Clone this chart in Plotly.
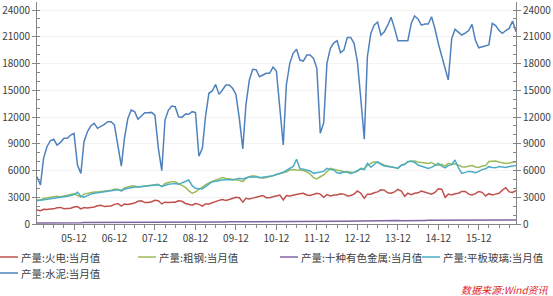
import pandas as pd
import plotly.graph_objects as go

# ---------------- data (monthly, 2005-01 .. 2016-11) ----------------
months = pd.date_range("2005-01-01", periods=143, freq="MS")

thermal_power = (  # 产量:火电:当月值
    [1570, 1500, 1650, 1620, 1680, 1700, 1820, 1860, 1720, 1740, 1760, 1900]
    + [1950, 1700, 1850, 1800, 1850, 1900, 2050, 2100, 1950, 1960, 2030, 2200]
    + [2300, 2000, 2250, 2200, 2300, 2350, 2550, 2600, 2400, 2400, 2500, 2650]
    + [2600, 2250, 2450, 2400, 2450, 2450, 2600, 2550, 2300, 2200, 2100, 2300]
    + [2200, 2000, 2250, 2250, 2400, 2550, 2650, 2750, 2650, 2750, 2900, 3000]
    + [2950, 2450, 2880, 2800, 2900, 3000, 3150, 3200, 2950, 2950, 3050, 3150]
    + [3250, 2700, 3200, 3150, 3250, 3300, 3400, 3450, 3250, 3200, 3300, 3450]
    + [3350, 3000, 3300, 3150, 3250, 3250, 3400, 3350, 3150, 3200, 3350, 3700]
    + [3450, 2880, 3350, 3350, 3500, 3600, 3840, 3800, 3500, 3450, 3600, 3890]
    + [3700, 3100, 3450, 3300, 3450, 3500, 3700, 3600, 3450, 3350, 3550, 3950]
    + [3900, 2990, 3350, 3250, 3400, 3450, 3650, 3650, 3350, 3250, 3400, 3650]
    + [3550, 3150, 3400, 3250, 3350, 3450, 3800, 4070, 3600, 3550, 3750]
)

crude_steel = (  # 产量:粗钢:当月值
    [2690, 2700, 2850, 2950, 3000, 3050, 3100, 3050, 3150, 3200, 3300, 3400]
    + [3200, 3050, 3350, 3450, 3550, 3600, 3600, 3650, 3650, 3750, 3800, 3900]
    + [3900, 3750, 4050, 4150, 4250, 4250, 4150, 4200, 4250, 4350, 4350, 4400]
    + [4450, 4200, 4550, 4650, 4750, 4750, 4550, 4400, 4100, 3750, 3450, 3600]
    + [3900, 4150, 4400, 4600, 4820, 4950, 5050, 5200, 5100, 5050, 4950, 4930]
    + [4900, 4750, 5100, 5300, 5420, 5350, 5250, 5120, 5200, 5300, 5400, 5500]
    + [5600, 5680, 5850, 6060, 6100, 6050, 6060, 6000, 5870, 5600, 5200, 5050]
    + [5300, 5500, 5870, 6240, 6150, 6060, 5950, 5870, 5870, 5850, 5790, 5900]
    + [6240, 6200, 6600, 6800, 6990, 6900, 6800, 6600, 6500, 6400, 6300, 6240]
    + [6600, 6700, 6990, 7000, 7060, 6950, 6900, 6850, 6800, 6900, 6650, 6600]
    + [6700, 6500, 6800, 6700, 6750, 6600, 6430, 6400, 6500, 6550, 6400, 6350]
    + [6500, 6550, 7000, 7050, 7060, 6950, 6850, 6800, 6850, 6950, 6990]
)

nonferrous = (  # 产量:十种有色金属:当月值
    [125, 120, 130, 130, 135, 135, 135, 135, 138, 140, 142, 145]
    + [145, 140, 155, 155, 160, 160, 162, 163, 165, 167, 170, 175]
    + [175, 168, 185, 185, 195, 195, 195, 200, 200, 205, 205, 210]
    + [200, 190, 215, 215, 220, 220, 215, 210, 205, 195, 190, 190]
    + [180, 175, 195, 200, 210, 215, 225, 230, 235, 240, 245, 255]
    + [250, 245, 260, 265, 270, 270, 260, 250, 255, 265, 275, 285]
    + [280, 275, 290, 295, 295, 300, 300, 305, 310, 315, 315, 320]
    + [310, 300, 310, 310, 315, 315, 315, 310, 320, 325, 330, 345]
    + [335, 330, 350, 350, 355, 360, 360, 360, 365, 370, 375, 385]
    + [370, 365, 385, 390, 395, 400, 395, 405, 410, 410, 420, 430]
    + [410, 400, 420, 425, 430, 435, 430, 425, 435, 440, 445, 460]
    + [430, 420, 445, 440, 445, 450, 445, 440, 450, 455, 460]
)

flat_glass = (  # 产量:平板玻璃:当月值
    [2600, 2650, 2750, 2800, 2850, 2850, 2900, 2950, 3000, 3100, 3200, 3300]
    + [3550, 3100, 3000, 3200, 3350, 3450, 3500, 3550, 3600, 3650, 3700, 3800]
    + [3850, 3700, 3900, 4000, 4100, 4150, 4150, 4200, 4250, 4300, 4350, 4350]
    + [4400, 4200, 4350, 4450, 4500, 4550, 4450, 4600, 4750, 4930, 4300, 4000]
    + [3950, 3950, 4200, 4500, 4750, 4800, 4900, 4930, 4950, 5000, 4950, 5000]
    + [5120, 5050, 5200, 5300, 5250, 5310, 5200, 5250, 5310, 5350, 5420, 5550]
    + [5670, 5800, 6000, 6240, 6450, 7250, 6200, 6130, 6000, 5950, 5680, 5750]
    + [5870, 5900, 6240, 6100, 6060, 5750, 5680, 5870, 5800, 5680, 5790, 6000]
    + [6200, 6100, 6800, 6360, 6700, 6990, 6700, 6500, 6450, 6430, 6350, 6240]
    + [6600, 6700, 6990, 7060, 6900, 6620, 6500, 6400, 6240, 6350, 6600, 6800]
    + [6500, 6300, 6550, 6650, 7180, 6300, 5680, 5800, 5900, 5870, 5750, 5900]
    + [6100, 6200, 6430, 6350, 6300, 6450, 6430, 6350, 6450, 6500, 6550]
)

cement = (  # 产量:水泥:当月值 (None = month not published)
    [5300, 4370, 7370, 8670, 9340, 9500, 8860, 9160, 9610, 9610, 9980, 10170]
    + [6620, 5680, 9230, 10350, 10990, 11290, 10730, 10910, 11180, 11470, 11470, 11100]
    + [8860, 6500, 9610, 11850, 12780, 12600, 11740, 12110, 12480, 12480, 12520, 12220]
    + [8490, 5980, 11660, 12780, 13230, 13150, 12030, 11960, 12340, 12300, 12600, 12500]
    + [7600, 8490, 12000, 14660, 14920, 15660, 14540, 15030, 15590, 15590, 15220, 14540]
    + [11800, 8430, 13350, 16150, 17350, 17310, 16520, 16710, 16900, 16900, 17600, 17160]
    + [13300, 8860, 15590, 18020, 19140, 19590, 18390, 18280, 18950, 18950, 18580, 17460]
    + [10170, 11360, 18020, 19700, 20300, 20560, 19210, 19510, 20930, 20930, 20260, 18200]
    + [14000, 9500, 18760, 21380, 22310, 22650, 21200, 21570, 22300, 23180, 21940, 20560]
    + [None, None, 20560, 22500, 23330, 23000, 22300, 22430, 22430, 23250, 21900, 20250]
    + [None, None, 16150, 20800, 21830, 21500, 21200, 21400, 21700, 22400, 20600, 19760]
    + [None, None, 20080, 22500, 22250, 21700, 21380, 21700, 21940, 22770, 21570]
)

series_names = ["产量:火电:当月值", "产量:粗钢:当月值", "产量:十种有色金属:当月值",
                "产量:平板玻璃:当月值", "产量:水泥:当月值"]
series_values = [thermal_power, crude_steel, nonferrous, flat_glass, cement]
series_colors = ["#C0504D", "#9BBB59", "#8064A2", "#4BACC6", "#4F81BD"]

tick_dates = pd.date_range("2005-12-01", "2015-12-01", freq="12MS")
tick_labels = ["05-12", "06-12", "07-12", "08-12", "09-12", "10-12",
               "11-12", "12-12", "13-12", "14-12", "15-12"]
y_ticks = [0, 3000, 6000, 9000, 12000, 15000, 18000, 21000, 24000]
y_tick_labels = ["0", "3000", "6000", "9000", "12000", "15000", "18000", "21000", "24000"]

for v in series_values:
    assert len(v) == len(months)

# ---------------- figure ----------------
W, H = 553, 296
ML, MR, MT, MB = 37, 37, 2, 72
YMAX = 24900

fig = go.Figure()
for name, vals, col in zip(series_names, series_values, series_colors):
    fig.add_trace(go.Scatter(x=months, y=vals, name=name, mode="lines",
                             line=dict(color=col, width=1.5),
                             connectgaps=True, showlegend=False))
# helper trace to carry the right-hand axis
fig.add_trace(go.Scatter(x=months, y=cement, yaxis="y2", mode="lines",
                         line=dict(width=0), opacity=0, hoverinfo="skip",
                         connectgaps=True, showlegend=False))

axis_col = "#868686"
tick_font = dict(family="Noto Sans CJK SC, Liberation Sans, sans-serif",
                 size=10, color="#404040")

fig.update_layout(
    width=W, height=H,
    margin=dict(l=ML, r=MR, t=MT, b=MB, pad=0),
    paper_bgcolor="white", plot_bgcolor="white",
    xaxis=dict(
        range=[months[0], months[-1]],
        tickmode="array", tickvals=tick_dates, ticktext=tick_labels,
        ticks="outside", ticklen=5, tickcolor=axis_col,
        showline=True, linecolor=axis_col, linewidth=1,
        showgrid=False, zeroline=False, tickfont=tick_font,
        minor=dict(ticks="outside", ticklen=3, tickcolor=axis_col,
                   tick0="2005-03-01", dtick="M3", showgrid=False),
    ),
    yaxis=dict(
        range=[0, YMAX], tickmode="array", tickvals=y_ticks, ticktext=y_tick_labels,
        ticks="outside", ticklen=4, tickcolor=axis_col,
        showline=True, linecolor=axis_col, linewidth=1,
        showgrid=True, gridcolor="#f3f3f3", gridwidth=1,
        zeroline=False, tickfont=tick_font,
        minor=dict(ticks="inside", ticklen=3, tickcolor=axis_col,
                   tick0=0, dtick=1000, showgrid=False),
    ),
    yaxis2=dict(
        range=[0, YMAX], overlaying="y", side="right",
        tickmode="array", tickvals=y_ticks, ticktext=y_tick_labels,
        ticks="outside", ticklen=4, tickcolor=axis_col,
        showline=True, linecolor=axis_col, linewidth=1,
        showgrid=False, zeroline=False, tickfont=tick_font,
        minor=dict(ticks="inside", ticklen=3, tickcolor=axis_col,
                   tick0=0, dtick=1000),
    ),
    showlegend=False,
)

# ---------------- manual legend ----------------
plot_w = W - ML - MR
plot_h = H - MT - MB


def px_x(x):
    return (x - ML) / plot_w


def px_y(y):
    return (H - MB - y) / plot_h


legend_slots = [(0, 257), (138, 257), (280, 257), (422, 257), (0, 273)]
leg_font = dict(family="Noto Sans CJK SC, sans-serif", size=10.5, color="#404040")
for (lx, ly), name, col in zip(legend_slots, series_names, series_colors):
    fig.add_shape(type="line", xref="paper", yref="paper",
                  x0=px_x(lx), x1=px_x(lx + 18), y0=px_y(ly), y1=px_y(ly),
                  line=dict(color=col, width=1.5))
    fig.add_annotation(xref="paper", yref="paper", x=px_x(lx + 19), y=px_y(ly),
                       xanchor="left", yanchor="middle", showarrow=False,
                       text=name, font=leg_font)

fig.add_annotation(xref="paper", yref="paper", x=px_x(551), y=px_y(289),
                   xanchor="right", yanchor="middle", showarrow=False,
                   text="<i>数据来源:Wind资讯</i>",
                   font=dict(family="Noto Sans CJK SC, sans-serif", size=10,
                             color="#E0262B"))

fig.write_html("out.html")
